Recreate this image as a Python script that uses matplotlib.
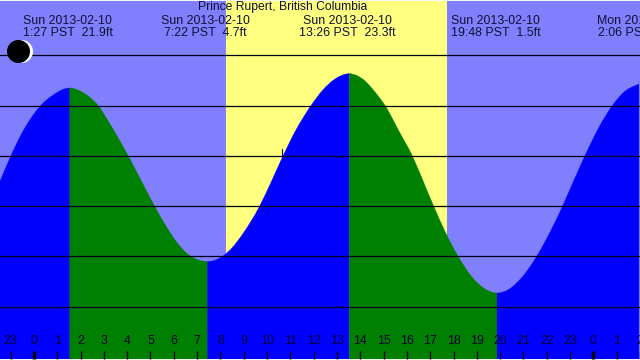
import numpy as np
import matplotlib
matplotlib.use('Agg')
import matplotlib.pyplot as plt
from matplotlib.path import Path
from matplotlib.patches import PathPatch

plt.rcParams['font.family'] = ['Liberation Sans', 'DejaVu Sans']

# Curva de marea (hora, pies)
horas = np.array([-1.46, -0.99, -0.51, -0.03, 0.40, 0.83, 1.25, 1.54, 1.97, 2.40,
                  2.75, 3.25, 4.04, 4.54, 5.14, 5.68, 6.11, 6.61, 7.11, 7.45,
                  8.09, 8.52, 8.95, 9.68, 10.18, 10.66, 11.25, 11.89, 12.38, 12.96,
                  13.53, 14.09, 14.68, 15.06, 15.67, 16.23, 16.79, 17.10, 17.64, 18.21,
                  18.79, 19.36, 19.87, 20.36, 20.93, 21.57, 22.14, 22.68, 23.21, 23.67,
                  24.21, 24.85, 25.35, 25.95])
pies = np.array([12.43, 14.98, 17.27, 19.06, 20.25, 21.05, 21.6, 21.74, 21.45, 20.8,
                 20.0, 18.2, 15.0, 12.8, 10.15, 7.95, 6.45, 5.2, 4.6, 4.49,
                 5.0, 5.9, 7.2, 9.98, 12.4, 14.85, 17.6, 20.0, 21.5, 22.7,
                 23.16, 22.65, 21.2, 20.0, 17.4, 15.0, 11.95, 10.25, 7.45, 4.95,
                 2.95, 1.75, 1.36, 1.7, 2.9, 5.0, 7.4, 10.0, 12.8, 15.15,
                 17.7, 20.1, 21.4, 22.14])

# Tramos entre pleamar y bajamar
tramos = [(-1.46, 1.54, 'sube'), (1.54, 7.45, 'baja'), (7.45, 13.53, 'sube'),
          (13.53, 19.87, 'baja'), (19.87, 25.95, 'sube')]
amanecer = 8.26
atardecer = 17.73

titulo = 'Prince Rupert, British Columbia'
etiqueta_horas = [1.45, 7.37, 13.43, 19.8, 26.1]
etiqueta_fechas = ['Sun 2013-02-10', 'Sun 2013-02-10', 'Sun 2013-02-10', 'Sun 2013-02-10', 'Mon 2013-02-11']
etiqueta_datos = ['1:27 PST  21.9ft', '7:22 PST  4.7ft', '13:26 PST  23.3ft', '19:48 PST  1.5ft', '2:06 PST  22.4ft']

marcas = list(range(-1, 27))
marcas_texto = [str(h % 24) for h in marcas]
rejilla = [0, 5, 10, 15, 20, 25]

fig = plt.figure(figsize=(6.4, 3.6), dpi=100, facecolor='#f4f8f4')
ax = fig.add_axes([0, 1 / 360, 1, 358 / 360])
ax.set_xlim(-1.456, 25.95)
ax.set_ylim(-5.2, 30.39)
ax.set_facecolor('#8080ff')
for lado in ax.spines.values():
    lado.set_visible(False)

# Dia y noche
ax.axvspan(amanecer, atardecer, color='#ffff80', lw=0, zorder=0)

# Pendientes para suavizar el trazo entre puntos leidos
pendiente = np.gradient(pies, horas)
for ini, fin, _ in tramos[:-1]:
    pendiente[horas == fin] = 0

# Marea
for ini, fin, tipo in tramos:
    m = (horas >= ini) & (horas <= fin)
    hs, ps, ds = horas[m], pies[m], pendiente[m]
    verts = [(hs[0], -6), (hs[0], ps[0])]
    codes = [Path.MOVETO, Path.LINETO]
    for i in range(len(hs) - 1):
        paso = (hs[i + 1] - hs[i]) / 3
        verts += [(hs[i] + paso, ps[i] + ds[i] * paso),
                  (hs[i + 1] - paso, ps[i + 1] - ds[i + 1] * paso),
                  (hs[i + 1], ps[i + 1])]
        codes += [Path.CURVE4] * 3
    verts += [(hs[-1], -6), (hs[0], -6)]
    codes += [Path.LINETO, Path.CLOSEPOLY]
    col = '#0000ff' if tipo == 'sube' else '#008000'
    ax.add_patch(PathPatch(Path(verts, codes), facecolor=col, edgecolor=col, lw=0.3, zorder=1))

for y in rejilla:
    ax.axhline(y, color='#000018', lw=0.9, zorder=2)

# Luna
ax.scatter([-0.56], [25.4], s=275, color='white', lw=0, zorder=3)
ax.scatter([-0.67], [25.4], s=275, color='black', lw=0, zorder=4)

# Marca de la hora actual
ax.plot([10.66, 10.66], [15.0, 15.7], color='#101040', lw=0.8, zorder=3)

ax.text(10.69, 29.75, titulo, ha='center', va='center', fontsize=8.7, color='#101030')
for h, fecha, dato in zip(etiqueta_horas, etiqueta_fechas, etiqueta_datos):
    ax.text(h, 28.4, fecha, ha='center', va='center', fontsize=8.9, color='#101030')
    ax.text(h, 27.2, dato, ha='center', va='center', fontsize=8.9, color='#101030')

ax.set_yticks([])
ax.set_xticks(marcas)
ax.set_xticklabels(marcas_texto, fontsize=8.9, color='#000030')
ax.tick_params(axis='x', direction='in', length=6, width=1.0, color='black', pad=-17)
ax.set_axisbelow(False)
for h, t in zip(marcas, ax.xaxis.get_major_ticks()):
    t.tick1line.set_zorder(5)
    if h % 24 == 0:
        t.tick1line.set_markeredgewidth(2.4)

fig.savefig('out.png', dpi=100, facecolor=fig.get_facecolor())
